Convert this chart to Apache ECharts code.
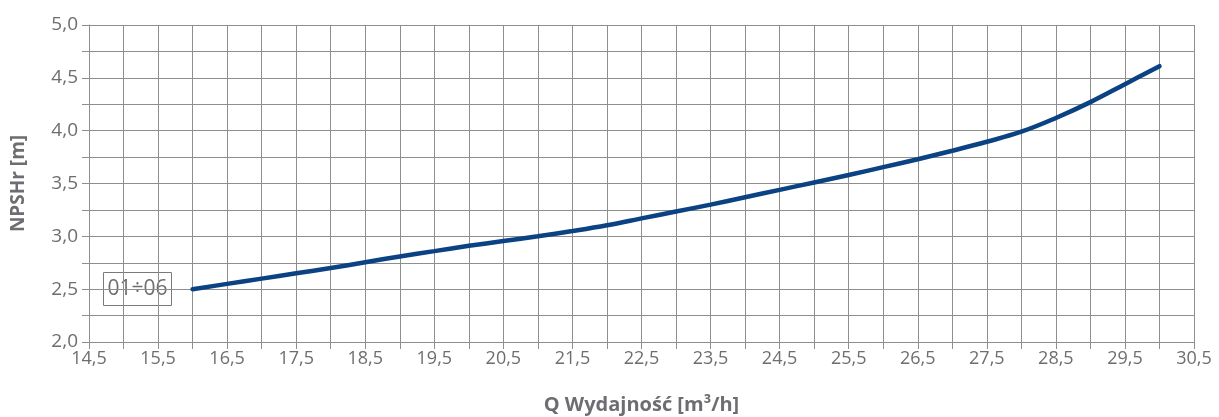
<!DOCTYPE html>
<html>
<head>
<meta charset="utf-8">
<script src="https://cdn.jsdelivr.net/npm/echarts@6/dist/echarts.min.js"></script>
<style>
html, body { margin: 0; padding: 0; background: #fff; }
#main { width: 1219px; height: 417px; }
</style>
</head>
<body>
<div id="main"></div>
<script>
// Q [m3/h] and NPSHr [m]
var flowQ = [16, 16.5, 17, 17.5, 18, 18.5, 19, 19.5, 20, 20.5, 21, 21.5, 22, 22.5, 23, 23.5, 24, 24.5, 25, 25.5, 26, 26.5, 27, 27.5, 28, 28.5, 29, 29.5, 30];
var npshr = [2.5, 2.55, 2.6, 2.65, 2.7, 2.755, 2.81, 2.86, 2.91, 2.955, 3.0, 3.05, 3.105, 3.17, 3.235, 3.3, 3.37, 3.44, 3.51, 3.58, 3.655, 3.73, 3.81, 3.895, 3.99, 4.12, 4.27, 4.44, 4.61];
var xTickLabels = ['14,5', '15,5', '16,5', '17,5', '18,5', '19,5', '20,5', '21,5', '22,5', '23,5', '24,5', '25,5', '26,5', '27,5', '28,5', '29,5', '30,5'];
var yTickLabels = ['2,0', '2,5', '3,0', '3,5', '4,0', '4,5', '5,0'];
var seriesName = '01÷06';

var chart = echarts.init(document.getElementById('main'));
var txt = '#6d6e71';
var gridCol = '#8e8e8e';
var font = '"Open Sans", "DejaVu Sans", sans-serif';

function fmtX(v) {
    var s = v.toFixed(1).replace('.', ',');
    return xTickLabels.indexOf(s) >= 0 ? s : '';
}
function fmtY(v) {
    var s = v.toFixed(1).replace('.', ',');
    return (Math.abs(v * 2 - Math.round(v * 2)) < 1e-6 && yTickLabels.indexOf(s) >= 0) ? s : '';
}

var pts = flowQ.map(function (q, i) { return [q, npshr[i]]; });

var option = {
    animation: false,
    grid: { left: 89, right: 25, top: 25, bottom: 75, containLabel: false, outerBoundsMode: 'none' },
    xAxis: {
        type: 'value',
        min: 14.5, max: 30.5, interval: 0.5,
        name: 'Q Wydajność [m³/h]',
        nameLocation: 'middle', nameGap: 53,
        nameTextStyle: { color: txt, fontWeight: 'bold', fontSize: 20, fontFamily: font },
        axisLine: { show: true, lineStyle: { color: gridCol, width: 1 } },
        axisTick: { show: true, length: 7, lineStyle: { color: gridCol } },
        axisLabel: { color: txt, fontSize: 18, fontFamily: font, margin: 8, formatter: fmtX, showMinLabel: true, showMaxLabel: true },
        splitLine: { show: true, lineStyle: { color: gridCol, width: 1 } }
    },
    yAxis: {
        type: 'value',
        min: 2.0, max: 5.0, interval: 0.25,
        name: 'NPSHr [m]',
        nameLocation: 'middle', nameGap: 61,
        nameTextStyle: { color: txt, fontWeight: 'bold', fontSize: 19, fontFamily: font },
        axisLine: { show: true, lineStyle: { color: gridCol, width: 1 } },
        axisTick: { show: true, length: 7, lineStyle: { color: gridCol } },
        axisLabel: { color: txt, fontSize: 19, fontFamily: font, margin: 11, formatter: fmtY },
        splitLine: { show: true, lineStyle: { color: gridCol, width: 1 } }
    },
    graphic: [{
        type: 'group',
        left: 103, top: 272,
        children: [{
            type: 'rect',
            shape: { x: 0, y: 0, width: 68, height: 33 },
            style: { fill: '#fff', stroke: '#7a7a7a', lineWidth: 1 }
        }, {
            type: 'text',
            x: 34, y: 17,
            style: { text: seriesName, fill: txt, fontSize: 21, fontFamily: font, align: 'center', verticalAlign: 'middle' }
        }]
    }],
    series: [{
        name: seriesName,
        type: 'line',
        data: pts,
        smooth: 0.4,
        showSymbol: false,
        lineStyle: { color: '#0a4283', width: 4.5, cap: 'round' }
    }]
};
chart.setOption(option);
</script>
</body>
</html>
